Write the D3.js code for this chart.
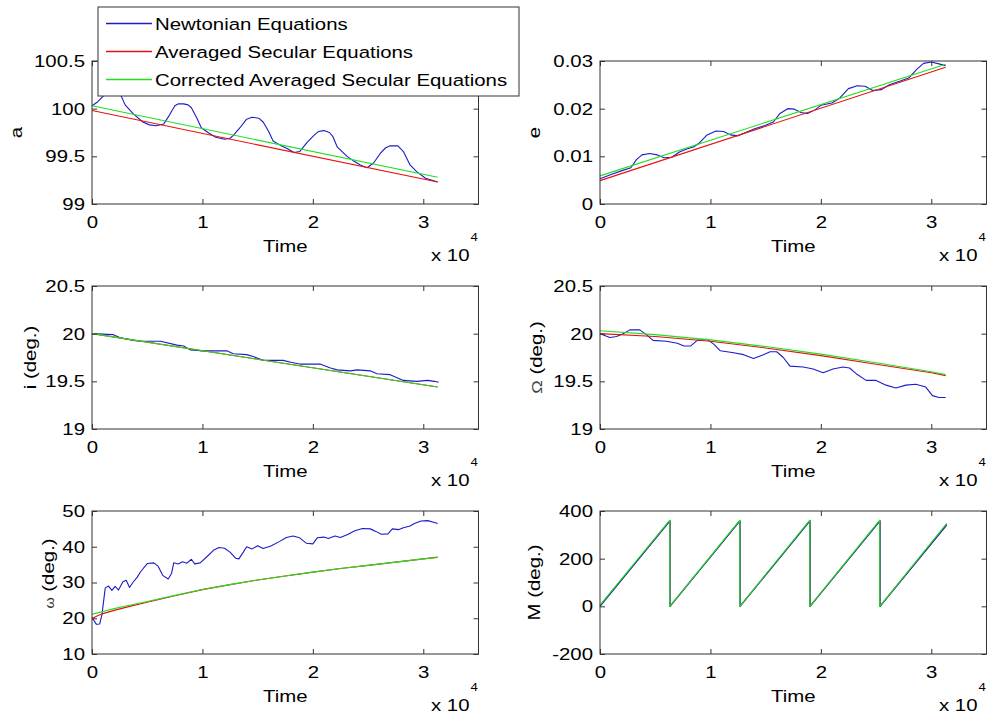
<!DOCTYPE html>
<html><head><meta charset="utf-8">
<script src="https://cdn.jsdelivr.net/npm/d3@7"></script>
<style>body{margin:0;background:#fff} text{font-family:"Liberation Sans",Arial,sans-serif;fill:#000}</style>
</head><body><svg id="c" width="990" height="721"></svg>
<script>
// ---------- DATA (time in units of 10^4) ----------
const timeTicks = [0, 1, 2, 3];
const seriesNames = ["Newtonian Equations", "Averaged Secular Equations", "Corrected Averaged Secular Equations"];

const aTicks = [99, 99.5, 100, 100.5];
const aNewton = [[0,100.03],[0.05,100.07],[0.1,100.13],[0.15,100.18],[0.2,100.2],[0.25,100.17],[0.3,100.04],[0.37,99.95],[0.46,99.86],[0.52,99.83],[0.58,99.82],[0.65,99.84],[0.7,99.93],[0.75,100.03],[0.78,100.05],[0.83,100.05],[0.87,100.04],[0.9,100.01],[0.95,99.9],[0.99,99.8],[1.05,99.75],[1.12,99.7],[1.2,99.68],[1.25,99.69],[1.28,99.72],[1.34,99.8],[1.4,99.89],[1.45,99.91],[1.51,99.9],[1.55,99.86],[1.6,99.76],[1.64,99.66],[1.7,99.62],[1.77,99.58],[1.83,99.54],[1.88,99.55],[1.95,99.65],[2.01,99.72],[2.05,99.76],[2.1,99.77],[2.15,99.75],[2.18,99.71],[2.22,99.6],[2.31,99.5],[2.37,99.45],[2.43,99.41],[2.49,99.38],[2.55,99.43],[2.61,99.53],[2.66,99.59],[2.7,99.61],[2.77,99.61],[2.82,99.55],[2.88,99.41],[2.94,99.34],[3.02,99.27],[3.08,99.25],[3.13,99.23]];
const aAveraged = [[0,99.98],[3.13,99.23]];
const aCorrected = [[0,100.03],[3.13,99.28]];

const eTicks = [0, 0.01, 0.02, 0.03];
const eNewton = [[0,0.0053],[0.1,0.0062],[0.2,0.0070],[0.28,0.0076],[0.33,0.0093],[0.38,0.0103],[0.45,0.0106],[0.52,0.0103],[0.58,0.0097],[0.65,0.0098],[0.72,0.0109],[0.78,0.0115],[0.85,0.0120],[0.9,0.0128],[0.97,0.0145],[1.05,0.0153],[1.12,0.0152],[1.18,0.0145],[1.25,0.0143],[1.32,0.0150],[1.4,0.0158],[1.5,0.0165],[1.57,0.0172],[1.63,0.0190],[1.7,0.0200],[1.76,0.0199],[1.82,0.0192],[1.88,0.0190],[1.95,0.0198],[2.0,0.0207],[2.1,0.0212],[2.17,0.0222],[2.25,0.0242],[2.33,0.0248],[2.4,0.0247],[2.47,0.0238],[2.55,0.0240],[2.62,0.0250],[2.72,0.0258],[2.8,0.0265],[2.87,0.0283],[2.93,0.0295],[3.0,0.0298],[3.07,0.0294],[3.13,0.0290]];
const eAveraged = [[0,0.0049],[3.13,0.0287]];
const eCorrected = [[0,0.0059],[3.13,0.0293]];

const iTicks = [19, 19.5, 20, 20.5];
const iNewton = [[0,20.0],[0.19,19.99],[0.25,19.96],[0.37,19.93],[0.45,19.92],[0.62,19.92],[0.77,19.88],[0.83,19.87],[0.89,19.83],[0.98,19.82],[1.22,19.82],[1.28,19.79],[1.4,19.78],[1.46,19.76],[1.55,19.72],[1.73,19.72],[1.8,19.7],[1.89,19.68],[2.07,19.68],[2.16,19.64],[2.22,19.62],[2.34,19.61],[2.4,19.62],[2.52,19.61],[2.58,19.58],[2.7,19.57],[2.82,19.51],[2.94,19.5],[3.04,19.51],[3.1,19.5],[3.14,19.49]];
const iAveraged = [[0,20.0],[3.13,19.44]];
const iCorrected = [[0,20.0],[3.13,19.44]];

const omTicks = [19, 19.5, 20, 20.5];
const omNewton = [[0,20.0],[0.09,19.96],[0.15,19.97],[0.21,20.0],[0.27,20.04],[0.36,20.04],[0.42,19.99],[0.48,19.93],[0.6,19.92],[0.7,19.9],[0.76,19.87],[0.82,19.87],[0.88,19.93],[0.97,19.94],[1.03,19.89],[1.09,19.82],[1.21,19.8],[1.3,19.78],[1.39,19.74],[1.48,19.78],[1.54,19.81],[1.6,19.81],[1.66,19.75],[1.72,19.66],[1.84,19.65],[1.93,19.63],[2.02,19.59],[2.11,19.63],[2.2,19.65],[2.26,19.64],[2.32,19.58],[2.41,19.51],[2.5,19.51],[2.59,19.46],[2.68,19.43],[2.77,19.46],[2.86,19.47],[2.95,19.44],[3.01,19.35],[3.07,19.33],[3.13,19.33]];
const omAveraged = [[0,20.0],[0.5,19.97],[1,19.92],[1.5,19.85],[2,19.77],[2.5,19.68],[3,19.59],[3.13,19.56]];
const omCorrected = [[0,20.03],[0.5,19.99],[1,19.935],[1.5,19.865],[2,19.785],[2.5,19.695],[3,19.6],[3.13,19.57]];

const wTicks = [10, 20, 30, 40, 50];
const wNewton = [[0,20.2],[0.04,18.3],[0.07,18.4],[0.09,21],[0.12,28.5],[0.15,29],[0.18,27.8],[0.21,28.9],[0.24,27.9],[0.28,30.2],[0.31,30.6],[0.34,28.6],[0.37,30.0],[0.41,31.5],[0.44,33],[0.5,35.3],[0.56,35.5],[0.6,34.5],[0.64,32],[0.69,31],[0.72,32.5],[0.74,35.5],[0.78,35.2],[0.82,35.8],[0.86,35.4],[0.9,36.5],[0.93,35.2],[0.98,35.5],[1.04,37.2],[1.1,39],[1.15,39.8],[1.2,39.6],[1.25,38.5],[1.3,36.8],[1.33,36.6],[1.37,38.5],[1.4,40],[1.45,39.4],[1.5,40.3],[1.55,39.5],[1.62,40.2],[1.7,41.5],[1.76,42.6],[1.82,43],[1.88,42.5],[1.94,41],[2.0,40.8],[2.04,42.5],[2.1,42.7],[2.14,42.3],[2.2,43],[2.25,42.6],[2.32,43.5],[2.38,44.5],[2.45,45.1],[2.52,45],[2.57,44.3],[2.62,43.5],[2.68,43.6],[2.72,45],[2.78,44.8],[2.82,45.3],[2.88,45.8],[2.92,46.5],[2.98,47.2],[3.04,47.3],[3.1,46.8],[3.13,46.5]];
const wAveraged = [[0,19.9],[0.05,20.7],[0.1,21.3],[0.2,22.2],[0.35,23.4],[0.5,24.5],[0.75,26.3],[1,28.0],[1.25,29.4],[1.5,30.7],[1.75,31.8],[2,32.9],[2.25,33.9],[2.5,34.8],[2.75,35.7],[3,36.6],[3.13,37.1]];
const wCorrected = [[0,21.1],[0.05,21.5],[0.1,21.9],[0.2,22.7],[0.35,23.7],[0.5,24.7],[0.75,26.4],[1,28.05],[1.25,29.4],[1.5,30.7],[1.75,31.8],[2,32.9],[2.25,33.9],[2.5,34.8],[2.75,35.7],[3,36.6],[3.13,37.0]];

const mTicks = [-200, 0, 200, 400];
const mNewton = [[0,0],[0.634,358],[0.634,0],[1.268,358],[1.268,180],[1.268,0],[1.902,358],[1.902,0],[2.536,358],[2.536,0],[3.14,341]];
const mAveraged = [[0,2],[0.633,360],[0.633,0],[1.267,360],[1.267,0],[1.901,360],[1.901,0],[2.535,360],[2.535,180],[2.535,0],[3.14,344]];
const mCorrected = [[0,5],[0.632,362],[0.632,0],[1.266,362],[1.266,180],[1.266,0],[1.9,362],[1.9,180],[1.9,0],[2.533,362],[2.533,180],[2.533,0],[3.14,348]];

// ---------- LAYOUT ----------
const colors = ["#1c1cc8", "#e81010", "#20e020"];
const FS = 17, SX = 1.2;
const colX = [92, 600], plotW = 386.5, rowY = [61, 286, 511], plotH = 143;
const svg = d3.select("#c");

const panels = [
  {col:0,row:0,dom:[99,100.5],ticks:aTicks,lab:[{t:"a"}],labX:22,labDy:0,order:[0,1,2],data:[aNewton,aAveraged,aCorrected]},
  {col:1,row:0,dom:[0,0.03],ticks:eTicks,lab:[{t:"e"}],labX:540,labDy:0,order:[0,1,2],data:[eNewton,eAveraged,eCorrected]},
  {col:0,row:1,dom:[19,20.5],ticks:iTicks,lab:[{t:"i (deg.)"}],labX:36,labDy:0,order:[0,1,2],data:[iNewton,iAveraged,iCorrected]},
  {col:1,row:1,dom:[19,20.5],ticks:omTicks,lab:[{t:"Ω",s:15,c:"#444"},{t:" (deg.)"}],labX:542,labDy:0,order:[0,1,2],data:[omNewton,omAveraged,omCorrected]},
  {col:0,row:2,dom:[10,50],ticks:wTicks,lab:[{t:"ω",s:12,c:"#333"},{t:"  (deg.)"}],labX:54,labDy:-9,order:[0,1,2],data:[wNewton,wAveraged,wCorrected]},
  {col:1,row:2,dom:[-200,400],ticks:mTicks,lab:[{t:"M (deg.)"}],labX:540,labDy:0,order:[1,0,2],data:[mNewton,mAveraged,mCorrected]}
];

function stretch(sel){
  sel.each(function(){
    const t = d3.select(this);
    const x = +t.attr("x") || 0;
    t.attr("x", x / SX).attr("transform", `scale(${SX},1)`);
  });
}

panels.forEach(p => {
  const x0 = colX[p.col], y0 = rowY[p.row];
  const x = d3.scaleLinear().domain([0, 3.5]).range([x0, x0 + plotW]);
  const y = d3.scaleLinear().domain(p.dom).range([y0 + plotH, y0]);
  const g = svg.append("g");

  // data lines
  const line = d3.line().x(d => x(d[0])).y(d => y(d[1]));
  p.order.forEach(k => {
    g.append("path").datum(p.data[k]).attr("d", line).attr("fill", "none")
      .style("stroke", colors[k]).attr("stroke-width", 1.1).attr("stroke-linejoin", "round");
  });

  // box
  g.append("rect").attr("x", x0).attr("y", y0).attr("width", plotW).attr("height", plotH)
    .attr("fill", "none").attr("stroke", "#333").attr("stroke-width", 1);

  const styleAxis = sel => { sel.select(".domain").remove(); sel.selectAll("line").attr("stroke", "#333"); };
  // bottom
  const gb = g.append("g").attr("transform", `translate(0,${y0 + plotH})`)
    .call(d3.axisBottom(x).tickValues(timeTicks).tickFormat(d3.format("d")).tickSizeInner(-5).tickSizeOuter(0).tickPadding(11.5));
  styleAxis(gb);
  gb.selectAll("text").attr("font-size", FS).attr("fill", "#000").style("font-family", "'Liberation Sans',Arial,sans-serif").call(stretch);
  // top
  const gt = g.append("g").attr("transform", `translate(0,${y0})`)
    .call(d3.axisTop(x).tickValues(timeTicks).tickFormat("").tickSizeInner(-5).tickSizeOuter(0));
  styleAxis(gt);
  // left
  const gl = g.append("g").attr("transform", `translate(${x0},0)`)
    .call(d3.axisLeft(y).tickValues(p.ticks).tickFormat(d => String(d)).tickSizeInner(-5).tickSizeOuter(0).tickPadding(7));
  styleAxis(gl);
  gl.selectAll("text").attr("font-size", FS).attr("fill", "#000").style("font-family", "'Liberation Sans',Arial,sans-serif").call(stretch);
  // right
  const gr = g.append("g").attr("transform", `translate(${x0 + plotW},0)`)
    .call(d3.axisRight(y).tickValues(p.ticks).tickFormat("").tickSizeInner(-5).tickSizeOuter(0));
  styleAxis(gr);

  // Time label
  g.append("text").attr("transform", `translate(${x0 + plotW / 2},${y0 + plotH + 48}) scale(${SX},1)`)
    .attr("text-anchor", "middle").attr("font-size", FS).text("Time");
  // x 10^4
  g.append("text").attr("transform", `translate(${x0 + plotW - 9},${y0 + plotH + 57}) scale(${SX},1)`)
    .attr("text-anchor", "end").attr("font-size", FS).text("x 10");
  g.append("text").attr("transform", `translate(${x0 + plotW - 8},${y0 + plotH + 37}) scale(${SX},1)`)
    .attr("font-size", 11).text("4");

  // y label
  const yl = g.append("text")
    .attr("transform", `translate(${p.labX},${y0 + plotH / 2 + p.labDy}) rotate(-90) scale(${SX},1)`)
    .attr("text-anchor", "middle").attr("font-size", FS);
  p.lab.forEach(l => {
    const ts = yl.append("tspan").text(l.t);
    if (l.s) ts.attr("font-size", l.s);
    if (l.c) ts.style("fill", l.c);
  });
});

// ---------- LEGEND ----------
const lg = svg.append("g");
lg.append("rect").attr("x", 98).attr("y", 7).attr("width", 421).attr("height", 89)
  .attr("fill", "#fff").attr("stroke", "#333").attr("stroke-width", 1);
const legY = [23.5, 51.5, 79.5];
seriesNames.forEach((n, k) => {
  lg.append("path").attr("d", d3.line()([[106, legY[k]], [152, legY[k]]]))
    .attr("fill", "none").style("stroke", colors[k]).attr("stroke-width", 1.3);
  lg.append("text").attr("transform", `translate(155,${legY[k] + 6}) scale(${SX},1)`)
    .attr("font-size", FS).text(n);
});
</script></body></html>
